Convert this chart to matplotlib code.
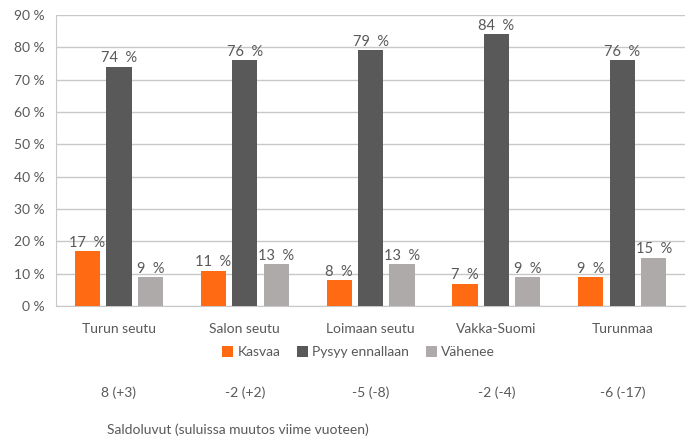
import matplotlib.pyplot as plt
import numpy as np

plt.rcParams['font.family'] = ['Lato', 'DejaVu Sans']

regions = ['Turun seutu', 'Salon seutu', 'Loimaan seutu', 'Vakka-Suomi', 'Turunmaa']
kasvaa = [17, 11, 8, 7, 9]
pysyy = [74, 76, 79, 84, 76]
vahenee = [9, 13, 13, 9, 15]
saldo = ['8 (+3)', '-2 (+2)', '-5 (-8)', '-2 (-4)', '-6 (-17)']

series = [('Kasvaa', kasvaa, '#FF6A13'),
          ('Pysyy ennallaan', pysyy, '#595959'),
          ('Vähenee', vahenee, '#AEAAAA')]

fig = plt.figure(figsize=(6.96, 4.38), dpi=100)
ax = fig.add_axes([0.0805, 0.301, 0.904, 0.665])

x = np.arange(len(regions))
w = 0.2
step = 0.25
for i, (name, vals, col) in enumerate(series):
    pos = x + (i - 1) * step
    ax.bar(pos, vals, width=w, color=col, label=name, zorder=3)
    for p, v in zip(pos, vals):
        ax.text(p, v + 0.4, f'{v}  %', ha='center', va='bottom', fontsize=10.5, color='#595959')

ax.set_xlim(-0.5, 4.5)
ax.set_ylim(0, 90)
ax.set_yticks(range(0, 91, 10))
ax.set_yticklabels([f'{t} %' for t in range(0, 91, 10)])
ax.yaxis.grid(True, color='#C8C8C8', linewidth=1, zorder=0)
ax.set_xticks(x)
ax.set_xticklabels(regions)
ax.tick_params(axis='both', length=0, labelsize=10, colors='#595959', pad=8)
ax.tick_params(axis='x', pad=12)
for s in ['top', 'right']:
    ax.spines[s].set_visible(False)
ax.spines['left'].set_color('#C8C8C8')
ax.spines['bottom'].set_color('#C8C8C8')

leg = fig.legend(loc='center', bbox_to_anchor=(0.515, 0.196), ncol=3, frameon=False,
                 fontsize=10, handlelength=0.8, handleheight=0.8, handletextpad=0.3,
                 columnspacing=1.2)
for t in leg.get_texts():
    t.set_color('#595959')

for xi, s in zip(x, saldo):
    xf = fig.transFigure.inverted().transform(ax.transData.transform((xi, 0)))[0]
    fig.text(xf, 1 - 393 / 438, s, ha='center', va='center', fontsize=10, color='#595959')

fig.text(107 / 696, 1 - 430 / 438, 'Saldoluvut (suluissa muutos viime vuoteen)', ha='left',
         va='center', fontsize=10, color='#595959')

fig.savefig('out.png', dpi=100)
